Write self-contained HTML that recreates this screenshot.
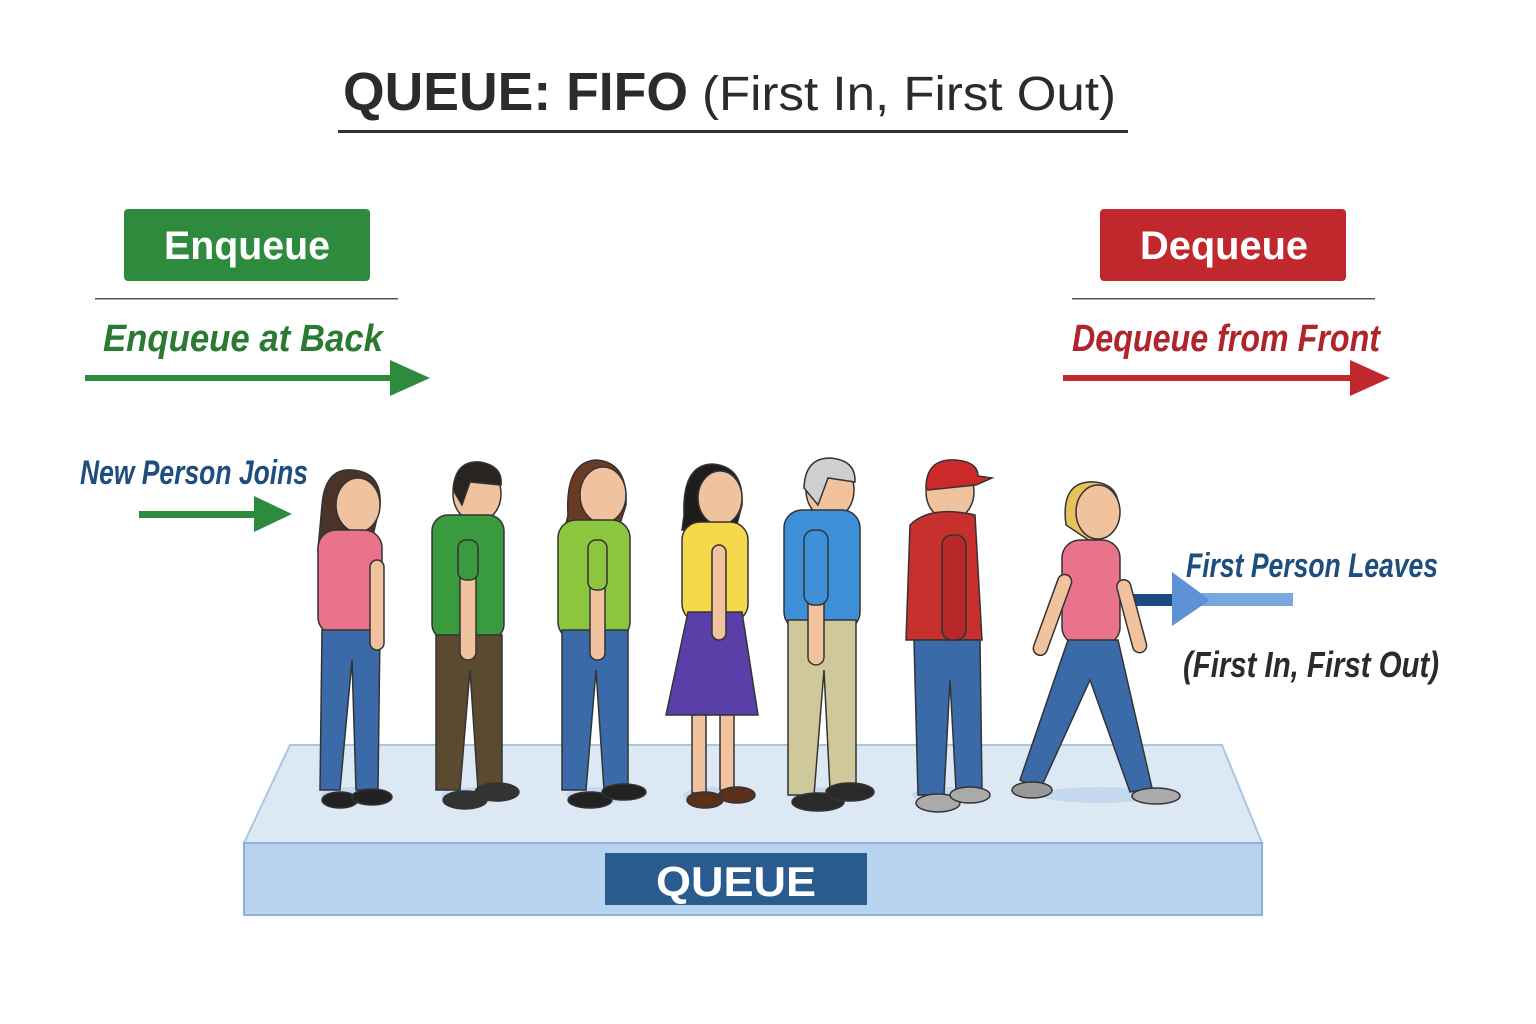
<!DOCTYPE html>
<html><head><meta charset="utf-8"><style>
html,body{margin:0;padding:0;background:#fff;}
svg{display:block;}
text{font-family:"Liberation Sans Narrow","Liberation Sans",sans-serif;}
</style></head><body>
<svg width="1536" height="1024" viewBox="0 0 1536 1024" xmlns="http://www.w3.org/2000/svg">
<rect width="1536" height="1024" fill="#fff"/>
<text x="343" y="110" font-size="54" font-weight="bold" fill="#2b2b2b" textLength="345" lengthAdjust="spacingAndGlyphs">QUEUE: FIFO</text>
<text x="702" y="110" font-size="48" fill="#2b2b2b" textLength="414" lengthAdjust="spacingAndGlyphs">(First In, First Out)</text>
<rect x="338" y="130" width="790" height="3" fill="#333"/>

<rect x="124" y="209" width="246" height="72" rx="4" fill="#2e8b3e"/>
<text x="247" y="259" font-size="40" font-weight="bold" fill="#fff" text-anchor="middle" textLength="166" lengthAdjust="spacingAndGlyphs">Enqueue</text>
<rect x="95" y="298" width="303" height="1.5" fill="#555"/>
<text x="103" y="351" font-size="38" font-weight="bold" font-style="italic" fill="#2a7a32" textLength="280" lengthAdjust="spacingAndGlyphs">Enqueue at Back</text>
<rect x="85" y="375" width="310" height="6" fill="#2e8b3e"/>
<polygon points="390,360 430,378 390,396" fill="#2e8b3e"/>

<rect x="1100" y="209" width="246" height="72" rx="4" fill="#c0282e"/>
<text x="1224" y="259" font-size="40" font-weight="bold" fill="#fff" text-anchor="middle" textLength="168" lengthAdjust="spacingAndGlyphs">Dequeue</text>
<rect x="1072" y="298" width="303" height="1.5" fill="#555"/>
<text x="1072" y="351" font-size="38" font-weight="bold" font-style="italic" fill="#b0252b" textLength="308" lengthAdjust="spacingAndGlyphs">Dequeue from Front</text>
<rect x="1063" y="375" width="292" height="6" fill="#c0282e"/>
<polygon points="1350,360 1390,378 1350,396" fill="#c0282e"/>

<text x="80" y="484" font-size="34" font-weight="bold" font-style="italic" fill="#1e4d80" textLength="228" lengthAdjust="spacingAndGlyphs">New Person Joins</text>
<rect x="139" y="511" width="120" height="7" fill="#2e8b3e"/>
<polygon points="254,496 292,514 254,532" fill="#2e8b3e"/>

<text x="1186" y="577" font-size="34" font-weight="bold" font-style="italic" fill="#1e4d80" textLength="252" lengthAdjust="spacingAndGlyphs">First Person Leaves</text>
<rect x="1130" y="594" width="45" height="12" fill="#1a4a80"/>
<rect x="1172" y="593" width="121" height="13" fill="#79a8de"/>
<polygon points="1172,572 1210,600 1172,626" fill="#5d93d6"/>
<text x="1183" y="677" font-size="36" font-weight="bold" font-style="italic" fill="#2b2b2b" textLength="256" lengthAdjust="spacingAndGlyphs">(First In, First Out)</text>

<polygon points="290,745 1222,745 1262,843 244,843" fill="#dce9f5" stroke="#a9c6e2" stroke-width="2"/>
<rect x="244" y="843" width="1018" height="72" fill="#b7d3ee" stroke="#8fb3d8" stroke-width="2"/>
<rect x="605" y="853" width="262" height="52" fill="#2a5b8f"/>
<text x="736" y="896" font-size="42" font-weight="bold" fill="#fff" text-anchor="middle" font-family="Liberation Sans,sans-serif" textLength="160" lengthAdjust="spacingAndGlyphs">QUEUE</text>

<g stroke="#333" stroke-width="1.5">
<g>
<ellipse cx="352" cy="795" rx="32" ry="8" fill="#c4d9ee" stroke="none"/>
<path d="M322 505 Q325 468 352 470 Q382 472 380 505 L372 540 L318 550 Z" fill="#4a3428"/>
<ellipse cx="358" cy="505" rx="22" ry="27" fill="#f0c29e"/>
<rect x="318" y="530" width="64" height="105" rx="18" fill="#e8738a"/>
<path d="M322 630 L320 790 L340 790 L352 660 L356 790 L378 790 L380 630 Z" fill="#3a6aa8"/>
<rect x="370" y="560" width="14" height="90" rx="7" fill="#f0c29e"/>
<ellipse cx="340" cy="800" rx="18" ry="8" fill="#222"/>
<ellipse cx="372" cy="797" rx="20" ry="8" fill="#222"/>
</g>
<g>
<ellipse cx="475" cy="795" rx="34" ry="8" fill="#c4d9ee" stroke="none"/>
<ellipse cx="477" cy="494" rx="24" ry="28" fill="#f0c29e"/>
<path d="M453 490 Q455 460 480 462 Q503 466 501 485 L470 482 L462 505 Z" fill="#2a2420"/>
<rect x="432" y="515" width="72" height="125" rx="16" fill="#3a9a3e"/>
<path d="M436 635 L436 790 L460 790 L470 670 L478 790 L502 790 L502 635 Z" fill="#5a4a30"/>
<rect x="460" y="560" width="16" height="100" rx="8" fill="#f0c29e"/>
<rect x="458" y="540" width="20" height="40" rx="8" fill="#3a9a3e"/>
<ellipse cx="465" cy="800" rx="22" ry="9" fill="#333"/>
<ellipse cx="497" cy="792" rx="22" ry="9" fill="#333"/>
</g>
<g>
<ellipse cx="600" cy="795" rx="34" ry="8" fill="#c4d9ee" stroke="none"/>
<path d="M568 515 Q565 462 596 460 Q628 462 626 505 L618 530 L565 528 Z" fill="#6b3a24"/>
<ellipse cx="603" cy="495" rx="23" ry="28" fill="#f0c29e"/>
<rect x="558" y="520" width="72" height="120" rx="18" fill="#8cc63f"/>
<path d="M562 630 L562 790 L586 790 L596 670 L604 790 L628 790 L628 630 Z" fill="#3a6aa8"/>
<rect x="590" y="560" width="15" height="100" rx="7" fill="#f0c29e"/>
<rect x="588" y="540" width="19" height="50" rx="8" fill="#8cc63f"/>
<ellipse cx="590" cy="800" rx="22" ry="8" fill="#222"/>
<ellipse cx="624" cy="792" rx="22" ry="8" fill="#222"/>
</g>
<g>
<ellipse cx="717" cy="795" rx="34" ry="8" fill="#c4d9ee" stroke="none"/>
<path d="M684 515 Q682 465 712 464 Q744 466 742 505 L735 532 L682 530 Z" fill="#1e1c1c"/>
<ellipse cx="720" cy="498" rx="22" ry="27" fill="#f0c29e"/>
<rect x="682" y="522" width="66" height="100" rx="18" fill="#f5d94a"/>
<path d="M688 612 L742 612 L758 715 L666 715 Z" fill="#5a3fa8"/>
<rect x="712" y="545" width="14" height="95" rx="7" fill="#f0c29e"/>
<rect x="692" y="715" width="14" height="78" fill="#f0c29e"/>
<rect x="720" y="715" width="14" height="75" fill="#f0c29e"/>
<ellipse cx="705" cy="800" rx="18" ry="8" fill="#5a3018"/>
<ellipse cx="737" cy="795" rx="18" ry="8" fill="#5a3018"/>
</g>
<g>
<ellipse cx="830" cy="795" rx="36" ry="8" fill="#c4d9ee" stroke="none"/>
<ellipse cx="830" cy="490" rx="24" ry="29" fill="#f0c29e"/>
<path d="M804 488 Q805 458 830 458 Q856 460 855 482 L828 478 L818 505 Z" fill="#cfcfcf"/>
<rect x="784" y="510" width="76" height="120" rx="18" fill="#3d8fd8"/>
<path d="M788 620 L788 795 L814 795 L824 670 L830 790 L856 790 L856 620 Z" fill="#cfc89a"/>
<rect x="808" y="580" width="16" height="85" rx="8" fill="#f0c29e"/>
<rect x="804" y="530" width="24" height="75" rx="10" fill="#3d8fd8"/>
<ellipse cx="818" cy="802" rx="26" ry="9" fill="#2a2a2a"/>
<ellipse cx="850" cy="792" rx="24" ry="9" fill="#2a2a2a"/>
</g>
<g>
<ellipse cx="948" cy="795" rx="36" ry="8" fill="#c4d9ee" stroke="none"/>
<ellipse cx="950" cy="492" rx="24" ry="28" fill="#f0c29e"/>
<path d="M926 488 Q926 458 956 460 Q978 462 978 476 L992 478 L976 485 L928 490 Z" fill="#cc2a2a"/>
<path d="M910 525 Q930 505 975 515 L982 640 L906 640 Z" fill="#c8302e"/>
<path d="M914 640 L918 795 L944 795 L950 680 L956 790 L982 790 L980 640 Z" fill="#3a6aa8"/>
<rect x="942" y="535" width="24" height="105" rx="10" fill="#b8282a"/>
<ellipse cx="938" cy="803" rx="22" ry="9" fill="#aaa"/>
<ellipse cx="970" cy="795" rx="20" ry="8" fill="#aaa"/>
</g>
<g>
<ellipse cx="1100" cy="795" rx="60" ry="8" fill="#c4d9ee" stroke="none"/>
<path d="M1066 525 Q1060 480 1095 482 Q1122 485 1118 515 L1096 545 Z" fill="#e7c25a"/>
<ellipse cx="1098" cy="512" rx="22" ry="27" fill="#f0c29e"/>
<rect x="1062" y="540" width="58" height="105" rx="18" fill="#e8738a"/>
<path d="M1068 640 L1020 780 L1040 790 L1090 680 L1130 792 L1152 788 L1118 640 Z" fill="#3a6aa8"/>
<rect x="1115" y="580" width="14" height="75" rx="7" fill="#f0c29e" transform="rotate(-15 1122 580)"/>
<rect x="1060" y="575" width="14" height="85" rx="7" fill="#f0c29e" transform="rotate(20 1067 575)"/>
<ellipse cx="1032" cy="790" rx="20" ry="8" fill="#999"/>
<ellipse cx="1156" cy="796" rx="24" ry="8" fill="#aaa"/>
</g>
</g>
</svg>
</body></html>
